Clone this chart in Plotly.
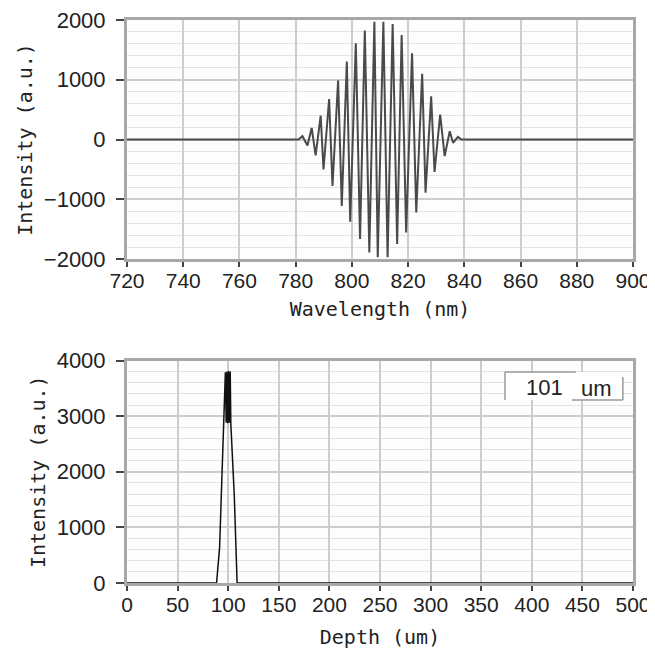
import plotly.graph_objects as go

# ---- data ----
wavelength_nm = [720, 781.0, 782.4, 784.2, 785.7, 787.1, 788.9, 789.9, 791.9, 793.1,
                 795.1, 796.4, 798.2, 799.4, 801.4, 802.9, 804.6, 806.2, 808.0, 809.2,
                 811.2, 812.7, 814.5, 816.1, 817.7, 819.3, 821.4, 822.9, 825.0, 826.2,
                 828.2, 829.4, 831.4, 833.0, 834.8, 836.0, 837.7, 839.0, 900]
interf_intensity = [0, 0, 56, -100, 194, -267, 400, -500, 678, -778,
                    989, -1111, 1306, -1378, 1611, -1667, 1822, -1889, 1972, -1972,
                    1972, -1972, 1933, -1750, 1750, -1556, 1444, -1222, 1100, -889,
                    722, -544, 417, -278, 139, -56, 44, 0, 0]

depth_um = [0, 88.5, 91.5, 94.0, 95.8, 97.2, 98.0, 98.8, 99.6, 100.4, 101.2,
            102.0, 102.6, 104.5, 106.0, 108.8, 500]
depth_intensity = [0, 0, 640, 2200, 2860, 3790, 2880, 3800, 2870, 3810, 2880,
                   3800, 2860, 2200, 1580, 0, 0]

wl_ticks = [720, 740, 760, 780, 800, 820, 840, 860, 880, 900]
top_y_ticks = [-2000, -1000, 0, 1000, 2000]
depth_ticks = [0, 50, 100, 150, 200, 250, 300, 350, 400, 450, 500]
bottom_y_ticks = [0, 1000, 2000, 3000, 4000]
peak_value = "101"
peak_unit = "um"

TICK_FONT = dict(family="Liberation Sans, Arial, sans-serif", size=22, color="#222222")
XTICK_FONT = dict(TICK_FONT, size=21)
TITLE_FONT = dict(family="DejaVu Sans Mono, monospace", size=20, color="#222222")

fig = go.Figure()
fig.add_trace(go.Scatter(x=wavelength_nm, y=interf_intensity, mode="lines",
                         line=dict(color="#4a4a4a", width=2),
                         xaxis="x", yaxis="y", showlegend=False))
fig.add_trace(go.Scatter(x=depth_um, y=depth_intensity, mode="lines",
                         line=dict(color="#111111", width=1.5),
                         xaxis="x2", yaxis="y2", showlegend=False))

common_axis = dict(
    showline=True, mirror=True, linecolor="#a8a8a8", linewidth=3,
    ticks="outside", tickwidth=1.5, tickcolor="#444444",
    showgrid=True, gridcolor="#cdcdcd", gridwidth=1.5, automargin=False,
    zeroline=False, tickfont=TICK_FONT, title_font=TITLE_FONT,
    ticklabeloverflow="allow",
)
x_axis = dict(common_axis, ticklen=5, ticklabelstandoff=-4, tickfont=XTICK_FONT)
y_axis = dict(common_axis, ticklen=8, ticklabelstandoff=6)
minor_grid = dict(dtick=200, showgrid=True, gridcolor="#e3e3e3", gridwidth=1, ticks="")

# the page body adds an 8px offset, so the figure is sized to fit the 655x650 window
fig.update_layout(
    width=647, height=642,
    margin=dict(l=119, r=22, t=12, b=67),
    paper_bgcolor="white", plot_bgcolor="#fdfdfd",
    showlegend=False,
    xaxis=dict(x_axis, domain=[0, 1], anchor="y", range=[720, 900],
               tickvals=wl_ticks, title=dict(text="Wavelength (nm)", standoff=11)),
    yaxis=dict(y_axis, domain=[0.5755, 1], anchor="x", range=[-2000, 2000],
               tickvals=top_y_ticks, minor=minor_grid,
               title=dict(text="Intensity (a.u.)", standoff=6)),
    xaxis2=dict(x_axis, domain=[0, 1], anchor="y2", range=[0, 500],
                tickvals=depth_ticks, title=dict(text="Depth (um)", standoff=15)),
    yaxis2=dict(y_axis, domain=[0, 0.3952], anchor="x2", range=[0, 4000],
                tickvals=bottom_y_ticks, minor=minor_grid,
                title=dict(text="Intensity (a.u.)", standoff=6)),
)

# numeric indicator box (upper right of the depth plot)
box_line = dict(color="#9a9a9a", width=1.5)
fig.add_shape(type="rect", xref="x2 domain", yref="y2 domain",
              x0=0.747, x1=0.980, y0=0.822, y1=0.948,
              fillcolor="white", line=dict(width=0), layer="above")
fig.add_shape(type="line", xref="x2 domain", yref="y2 domain",
              x0=0.747, x1=0.887, y0=0.948, y1=0.948, line=box_line)
fig.add_shape(type="line", xref="x2 domain", yref="y2 domain",
              x0=0.747, x1=0.747, y0=0.822, y1=0.948, line=box_line)
fig.add_shape(type="line", xref="x2 domain", yref="y2 domain",
              x0=0.879, x1=0.980, y0=0.822, y1=0.822, line=box_line)
fig.add_shape(type="line", xref="x2 domain", yref="y2 domain",
              x0=0.980, x1=0.980, y0=0.822, y1=0.926, line=box_line)
fig.add_annotation(xref="x2 domain", yref="y2 domain", x=0.866, y=0.879,
                   xanchor="right", yanchor="middle", text=peak_value,
                   showarrow=False, font=TICK_FONT)
fig.add_annotation(xref="x2 domain", yref="y2 domain", x=0.893, y=0.872,
                   xanchor="left", yanchor="middle", text=peak_unit,
                   showarrow=False, font=TICK_FONT)

fig.write_html("out.html")
